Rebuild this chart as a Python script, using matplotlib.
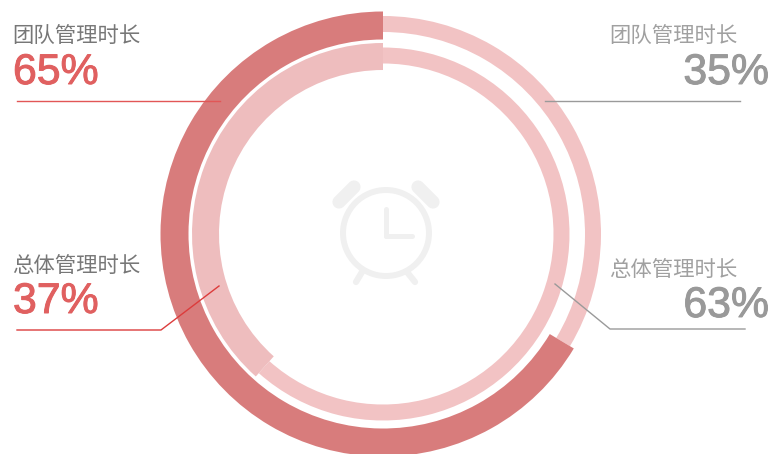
import matplotlib
matplotlib.use("Agg")
import matplotlib.pyplot as plt
import matplotlib.patheffects as pe
from matplotlib.patches import Wedge, Circle

W, H = 773, 454
CJK = ["Noto Sans CJK SC", "DejaVu Sans"]

# share of each ring, thick part runs counter-clockwise from the top
ring_names = ["outer", "inner"]
thick_share = [0.664, 0.384]
thin_share = [0.336, 0.616]

titles_left = ["团队管理时长", "总体管理时长"]
values_left = ["65%", "37%"]
titles_right = ["团队管理时长", "总体管理时长"]
values_right = ["35%", "63%"]

DARK = "#d87c7c"
LIGHT = "#f2c3c4"
INNER_THICK = "#eebdbe"
RED_TEXT = "#e06060"
RED_LINE = "#e25656"
GREY_LINE = "#9a9a9a"
ICON = "#f0f0f0"

cx, cy = 383, 234

fig = plt.figure(figsize=(W / 100, H / 100), dpi=100)
ax = fig.add_axes([0, 0, 1, 1])
ax.set_xlim(0, W)
ax.set_ylim(0, H)
ax.axis("off")


def Y(py):
    return H - py


def ring(r_out, width, start_share, share, color):
    # share counted counter-clockwise from 12 o'clock
    a1 = 90 + start_share * 360
    a2 = a1 + share * 360
    ax.add_patch(Wedge((cx, Y(cy)), r_out, a1, a2, width=width, fc=color, ec="none", zorder=2))


# outer ring
ring(218, 16, thick_share[0], thin_share[0], LIGHT)
ring(222.5, 28, 0, thick_share[0], DARK)
# inner ring
ring(186.5, 16, thick_share[1], thin_share[1], LIGHT)
ring(191, 27, 0, thick_share[1], INNER_THICK)

# clock icon
ic_x, ic_y = 386, 233
ax.add_patch(Circle((ic_x, Y(ic_y)), 43, fc="none", ec=ICON, lw=4.3, zorder=1))
icon_lines = [
    ([385.7, 385.7], [209, 236], 3.6),
    ([385.7, 412], [236, 236], 3.6),
    ([339, 354], [202, 187], 9.5),
    ([433, 418], [202, 187], 9.5),
    ([362, 356], [272, 282], 4.5),
    ([407, 415], [272, 282], 4.5),
]
for xs, ys, lw in icon_lines:
    ax.plot(xs, [Y(v) for v in ys], color=ICON, lw=lw, solid_capstyle="round", zorder=1)

# leader lines
ax.plot([17, 220], [Y(101), Y(101)], color=RED_LINE, lw=1, zorder=3)
ax.plot([17, 161, 219], [Y(330), Y(330), Y(286)], color="#dc3c3c", lw=1, zorder=3)
ax.plot([545, 740], [Y(101), Y(101)], color=GREY_LINE, lw=1, zorder=3)
ax.plot([555, 610, 745], [Y(284), Y(329), Y(329)], color=GREY_LINE, lw=1, zorder=3)

# labels
left_y = [(36, 73), (266, 302)]
right_y = [(36, 73), (270, 306)]
heavy = [pe.withStroke(linewidth=0.7, foreground=RED_TEXT)]
heavy_grey = [pe.withStroke(linewidth=0.7, foreground="#999999")]
for i in range(2):
    ax.text(12, Y(left_y[i][0]), titles_left[i], family=CJK, fontsize=15.4, color="#777777",
            ha="left", va="center", zorder=4)
    ax.text(13, Y(left_y[i][1]), values_left[i], family="Liberation Sans", fontsize=30.8, color=RED_TEXT,
            ha="left", va="center", zorder=4, path_effects=heavy)
    ax.text(609, Y(right_y[i][0]), titles_right[i], family=CJK, fontsize=15.4, color="#a0a0a0",
            ha="left", va="center", zorder=4)
    ax.text(769, Y(right_y[i][1]), values_right[i], family="Liberation Sans", fontsize=30.8, color="#999999",
            ha="right", va="center", zorder=4, path_effects=heavy_grey)

fig.savefig("out.png", dpi=100)
